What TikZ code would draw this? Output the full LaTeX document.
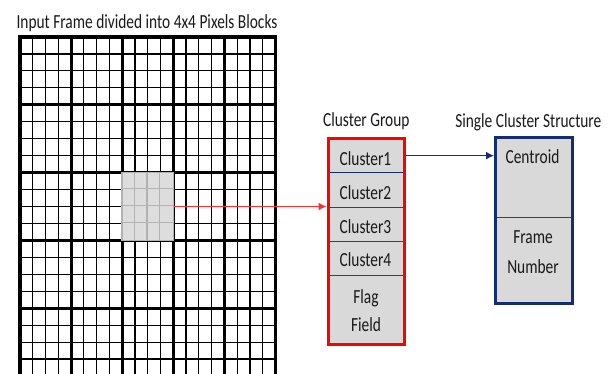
\documentclass[tikz,border=0pt]{standalone}
\usepackage{fontspec}
\setmainfont{Carlito}[FakeStretch=0.77]
\usetikzlibrary{arrows.meta,calc}
\definecolor{navy}{RGB}{20,45,110}
\definecolor{cellgray}{RGB}{217,217,217}
\definecolor{selgray}{RGB}{221,221,221}
\definecolor{selline}{RGB}{178,178,178}
\definecolor{brightred}{RGB}{255,0,0}
\definecolor{arrowred}{RGB}{255,45,45}
\begin{document}
\begin{tikzpicture}[x=1pt,y=-1pt,
  txt/.style={font=\fontsize{20}{24}\selectfont, inner sep=0pt, anchor=base, text=black!90},
  thingrid/.style={line width=1.2pt, black},
  thickgrid/.style={line width=3.2pt, black},
  selblock/.style={fill=selgray, draw=selline, line width=1.5pt, inner sep=0pt,
    minimum width=51.1pt, minimum height=67.8pt},
  cell/.style={draw=black!75, line width=0.8pt, fill=cellgray, inner sep=0pt,
    minimum width=76pt, anchor=north west},
  groupborder/.style={draw=brightred, line width=3pt},
  singleborder/.style={draw=navy, line width=3pt},
  redarrow/.style={draw=arrowred, line width=1.3pt, -{Latex[length=8pt,width=8pt]}, shorten >=1.5pt},
  bluearrow/.style={draw=navy, line width=1.3pt, -{Latex[length=8pt,width=8pt]}, shorten >=1.5pt}]
\useasboundingbox (0,0) rectangle (612,374);

% title
\node[txt] (title) at (147,28.3) {Input Frame divided into 4x4 Pixels Blocks};

% grid
\begin{scope}
\clip (0,0) rectangle (612,374);
\foreach \b in {0,...,4} {
  \foreach \k in {1,2,3} {
    \pgfmathsetmacro{\gxv}{20+\b*51.1+\k*12.775}
    \pgfmathsetmacro{\gyv}{37+\b*67.8+\k*16.95}
    \draw[thingrid] (\gxv,37) -- (\gxv,378);
    \draw[thingrid] (20,\gyv) -- (275.5,\gyv);
  }
}
\foreach \b in {0,...,5} {
  \pgfmathsetmacro{\gxv}{20+\b*51.1}
  \pgfmathsetmacro{\gyv}{37+\b*67.8}
  \draw[thickgrid] (\gxv,35.4) -- (\gxv,378);
  \draw[thickgrid] (18.4,\gyv) -- (277.1,\gyv);
}
\end{scope}

% selected block
\node[selblock] (sel) at (147.75,206.5) {};
\foreach \k in {1,2,3} {
  \draw[selline, line width=1.1pt] ($(sel.north west)+(\k*12.775,0.75)$) -- ($(sel.south west)+(\k*12.775,-0.75)$);
  \draw[selline, line width=1.1pt] ($(sel.north west)+(0.75,\k*16.95)$) -- ($(sel.north east)+(-0.75,\k*16.95)$);
}

% cluster group
\node[txt] (grouptitle) at (366.3,126.7) {Cluster Group};
\node[cell, minimum height=34.5pt] (c2) at (328,172) {};
\node[cell, minimum height=34pt] (c3) at (328,206.5) {};
\node[cell, minimum height=34pt] (c4) at (328,240.5) {};
\node[cell, minimum height=69pt] (flag) at (328,274.5) {};
\node[cell, draw=navy, minimum height=33.5pt] (c1) at (328,138.5) {};

% single cluster structure
\node[txt] (singletitle) at (528.3,127.7) {Single Cluster Structure};
\node[cell, minimum height=79.8pt] (cent) at (495.5,137.5) {};
\node[cell, minimum height=85.2pt] (fnum) at (495.5,217.3) {};

% connectors
\draw[redarrow] (sel.east) -- (sel.east -| c1.west);
\draw[bluearrow] (c1.east) -- (c1.east -| cent.west);

% borders
\draw[groupborder] (c1.north west) rectangle (flag.south east);
\draw[singleborder] (cent.north west) rectangle (fnum.south east);

% texts
\node[txt] (t1) at (365.5,165) {Cluster1};
\node[txt] (t2) at (365.5,199) {Cluster2};
\node[txt] (t3) at (365.5,233.3) {Cluster3};
\node[txt] (t4) at (365.5,266.7) {Cluster4};
\node[txt] (t5) at (366,303.3) {Flag};
\node[txt] (t6) at (366,331.7) {Field};
\node[txt] (t7) at (532.5,164) {Centroid};
\node[txt] (t8) at (533,243.3) {Frame};
\node[txt] (t9) at (533,273.3) {Number};
\end{tikzpicture}
\end{document}
